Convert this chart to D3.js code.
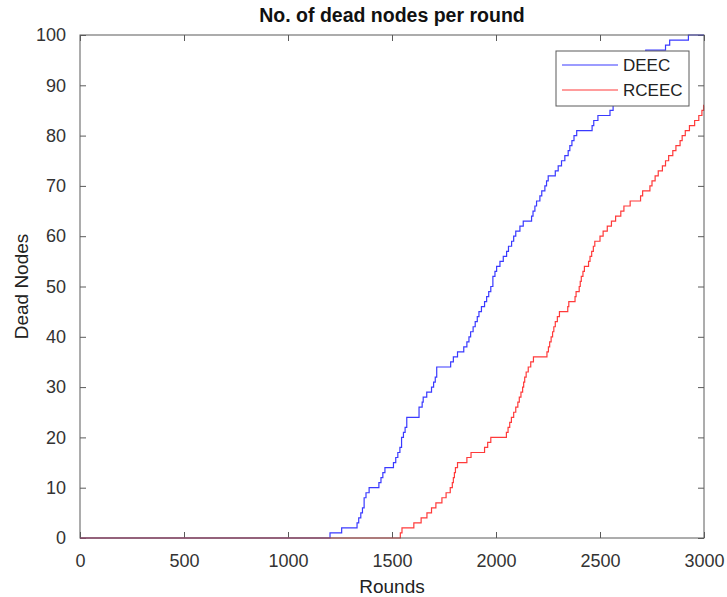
<!DOCTYPE html>
<html>
<head>
<meta charset="utf-8">
<script src="https://cdn.jsdelivr.net/npm/d3@7"></script>
<style>
  body { margin: 0; background: #fff; }
  svg { display: block; font-family: Arial, "Liberation Sans", Helvetica, sans-serif; }
</style>
</head>
<body>
<svg id="chart" width="727" height="597"></svg>
<script>
"use strict";

// step points: round at which the count changes, and the new count
const deecRounds = [0, 1202, 1258, 1332, 1340, 1350, 1358, 1366, 1375, 1390, 1437, 1447, 1456, 1466, 1507, 1518, 1528, 1538, 1546, 1555, 1563, 1571, 1630, 1645, 1650, 1667, 1690, 1700, 1708, 1715, 1782, 1795, 1815, 1845, 1860, 1870, 1878, 1890, 1900, 1910, 1918, 1930, 1945, 1955, 1965, 1975, 1985, 1995, 2003, 2019, 2035, 2051, 2060, 2075, 2085, 2095, 2115, 2131, 2171, 2178, 2187, 2195, 2211, 2220, 2235, 2243, 2251, 2285, 2299, 2315, 2331, 2347, 2355, 2365, 2375, 2388, 2462, 2470, 2490, 2548, 2563, 2580, 2595, 2610, 2625, 2640, 2655, 2670, 2685, 2700, 2710, 2720, 2815, 2835, 2925, 3000];
const deecDead = [0, 1, 2, 3, 4, 5, 6, 8, 9, 10, 11, 12, 13, 14, 15, 16, 17, 18, 20, 21, 22, 24, 26, 27, 28, 29, 30, 31, 32, 34, 35, 36, 37, 38, 39, 40, 41, 42, 43, 44, 45, 46, 47, 48, 49, 50, 52, 53, 54, 55, 56, 57, 58, 59, 60, 61, 62, 63, 64, 65, 66, 67, 68, 69, 70, 71, 72, 73, 74, 75, 76, 77, 78, 79, 80, 81, 82, 83, 84, 85, 86, 87, 88, 89, 90, 91, 92, 93, 94, 95, 96, 97, 98, 99, 100, 100];

const rceecRounds = [0, 1540, 1548, 1605, 1640, 1668, 1690, 1711, 1740, 1760, 1780, 1790, 1795, 1800, 1805, 1815, 1860, 1880, 1945, 1960, 1975, 2050, 2058, 2066, 2074, 2085, 2095, 2105, 2112, 2120, 2128, 2133, 2138, 2145, 2155, 2167, 2180, 2245, 2252, 2258, 2265, 2272, 2278, 2285, 2295, 2305, 2345, 2350, 2380, 2385, 2400, 2405, 2410, 2418, 2425, 2445, 2452, 2460, 2468, 2475, 2500, 2515, 2535, 2555, 2575, 2600, 2615, 2645, 2695, 2705, 2740, 2750, 2765, 2780, 2800, 2815, 2830, 2850, 2865, 2885, 2895, 2910, 2930, 2955, 2975, 2990, 2998, 3000];
const rceecDead = [0, 1, 2, 3, 4, 5, 6, 7, 8, 9, 10, 11, 12, 13, 14, 15, 16, 17, 18, 19, 20, 21, 22, 23, 24, 25, 26, 27, 28, 29, 30, 31, 32, 33, 34, 35, 36, 37, 38, 39, 40, 41, 42, 43, 44, 45, 46, 47, 48, 49, 50, 51, 52, 53, 54, 55, 56, 57, 58, 59, 60, 61, 62, 63, 64, 65, 66, 67, 68, 69, 70, 71, 72, 73, 74, 75, 76, 77, 78, 79, 80, 81, 82, 83, 84, 85, 86, 86];

const seriesNames = ["DEEC", "RCEEC"];
const seriesColors = ["#3a3aff", "#ff3a3a"];
const xTicks = [0, 500, 1000, 1500, 2000, 2500, 3000];
const yTicks = [0, 10, 20, 30, 40, 50, 60, 70, 80, 90, 100];

const margin = {top: 35, right: 23, bottom: 59, left: 80};
const width = 727 - margin.left - margin.right;
const height = 597 - margin.top - margin.bottom;

const svg = d3.select("#chart");
const g = svg.append("g")
  .attr("transform", `translate(${margin.left},${margin.top})`);

const x = d3.scaleLinear().domain([0, 3000]).range([0, width]);
const y = d3.scaleLinear().domain([0, 100]).range([height, 0]);

const axisColor = "#5a5a5a";
const textColor = "#333";

// matlab style axes: ticks inside, on all four sides
function styleAxis(sel) {
  sel.select(".domain").remove();
  sel.selectAll(".tick line").attr("stroke", axisColor);
  sel.selectAll(".tick text")
    .attr("fill", textColor)
    .attr("font-size", 18);
}

g.append("g")
  .attr("transform", `translate(0,${height})`)
  .call(d3.axisBottom(x).tickValues(xTicks).tickSize(-6).tickPadding(16).tickFormat(d3.format("d")))
  .call(styleAxis);

g.append("g")
  .call(d3.axisTop(x).tickValues(xTicks).tickSize(-6).tickFormat(""))
  .call(styleAxis);

g.append("g")
  .call(d3.axisLeft(y).tickValues(yTicks).tickSize(-6).tickPadding(14).tickFormat(d3.format("d")))
  .call(styleAxis);

g.append("g")
  .attr("transform", `translate(${width},0)`)
  .call(d3.axisRight(y).tickValues(yTicks).tickSize(-6).tickFormat(""))
  .call(styleAxis);

// the curves
const line = d3.line()
  .x(d => x(d[0]))
  .y(d => y(d[1]))
  .curve(d3.curveStepAfter);

const series = [
  d3.zip(deecRounds, deecDead),
  d3.zip(rceecRounds, rceecDead)
];

g.append("g")
  .selectAll("path")
  .data(series)
  .enter()
  .append("path")
  .attr("d", line)
  .attr("fill", "none")
  .attr("stroke", (d, i) => seriesColors[i])
  .attr("stroke-width", 1.2);

// box
g.append("rect")
  .attr("width", width)
  .attr("height", height)
  .attr("fill", "none")
  .attr("stroke", axisColor)
  .attr("stroke-width", 1);

// legend (opaque, hides the line behind it)
const legend = g.append("g")
  .attr("transform", `translate(${width - 148},16)`);

legend.append("rect")
  .attr("width", 133)
  .attr("height", 55)
  .attr("fill", "#fff")
  .attr("stroke", axisColor);

const item = legend.selectAll("g.item")
  .data(seriesNames)
  .enter()
  .append("g")
  .attr("class", "item")
  .attr("transform", (d, i) => `translate(0,${14 + i * 25})`);

item.append("line")
  .attr("x1", 6)
  .attr("x2", 62)
  .attr("stroke", (d, i) => seriesColors[i])
  .attr("stroke-width", 1.2);

item.append("text")
  .attr("x", 67)
  .attr("dy", "0.35em")
  .attr("font-size", 17)
  .attr("fill", "#222")
  .text(d => d);

// titles
svg.append("text")
  .attr("x", margin.left + width / 2)
  .attr("y", 22)
  .attr("text-anchor", "middle")
  .attr("font-size", 19.5)
  .attr("font-weight", "bold")
  .attr("fill", "#111")
  .text("No. of dead nodes per round");

svg.append("text")
  .attr("x", margin.left + width / 2)
  .attr("y", 593)
  .attr("text-anchor", "middle")
  .attr("font-size", 19)
  .attr("fill", "#222")
  .text("Rounds");

svg.append("text")
  .attr("transform", `translate(28,${margin.top + height / 2}) rotate(-90)`)
  .attr("text-anchor", "middle")
  .attr("font-size", 19)
  .attr("fill", "#222")
  .text("Dead Nodes");
</script>
</body>
</html>
